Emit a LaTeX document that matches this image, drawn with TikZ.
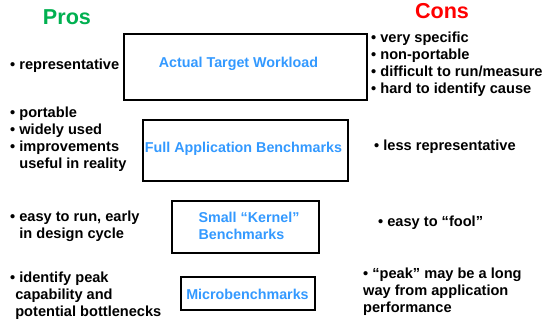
\documentclass[tikz,border=0pt]{standalone}
\usepackage{fontspec}
\setmainfont{Liberation Sans}
\usepackage{tikz}
\usetikzlibrary{positioning}
\definecolor{prosgreen}{RGB}{0,176,80}
\definecolor{consred}{RGB}{255,0,0}
\definecolor{labelblue}{RGB}{51,153,255}

\begin{document}
\begin{tikzpicture}[
x=1pt,y=-1pt,
tier/.style={draw,line width=1.6pt,inner sep=0pt},
tierlabel/.style={text=labelblue,font=\fontsize{14.3}{17}\selectfont\bfseries,align=left,inner sep=0pt},
point/.style={anchor=west,align=left,inner sep=0pt,font=\fontsize{14.6}{17}\selectfont\bfseries},
heading/.style={font=\fontsize{21.6}{26}\selectfont\bfseries,inner sep=0pt}]
\useasboundingbox (0,0) rectangle (556,323);
% column headings
\node[heading,text=prosgreen] (pros) at (67,16.7) {Pros};
\node[heading,text=consred] (cons) at (442,11) {Cons};
% the four kinds of benchmark
\node[tier,minimum width=243pt,minimum height=66pt] (actual) at (245.5,67) {};
\node[tier,minimum width=205pt,minimum height=61pt] (fullapp) at (245.5,150.5) {};
\node[tier,minimum width=147pt,minimum height=52pt] (kernel) at (245.5,227) {};
\node[tier,minimum width=134pt,minimum height=33pt] (micro) at (248,293.5) {};
\node[tierlabel] (actuallbl) at (238.5,64) {Actual Target Workload};
\node[tierlabel] (fullapplbl) at (243.5,149) {Full Application Benchmarks};
\node[tierlabel] (kernellbl) at (249,225.7) {Small “Kernel”\\Benchmarks};
\node[tierlabel] (microlbl) at (247.5,294) {Microbenchmarks};
% pros
\node[point] (pactual) at (10,66) {• representative};
\node[point] (pfullapp) at (10,139) {• portable\\• widely used\\• improvements\\\phantom{• }useful in reality};
\node[point] (pkernel) at (10,226) {• easy to run, early\\\phantom{• }in design cycle};
\node[point] (pmicro) at (10,296) {• identify peak\\\phantom{•}capability and\\\phantom{•}potential bottlenecks};
% cons
\node[point] (cactual) at (371,64.5) {• very specific\\• non-portable\\• difficult to run/measure\\• hard to identify cause};
\node[point] (cfullapp) at (374,147) {• less representative};
\node[point] (ckernel) at (378,223) {• easy to “fool”};
\node[point] (cmicro) at (363,291.5) {• “peak” may be a long\\way from application\\performance};
\end{tikzpicture}
\end{document}
